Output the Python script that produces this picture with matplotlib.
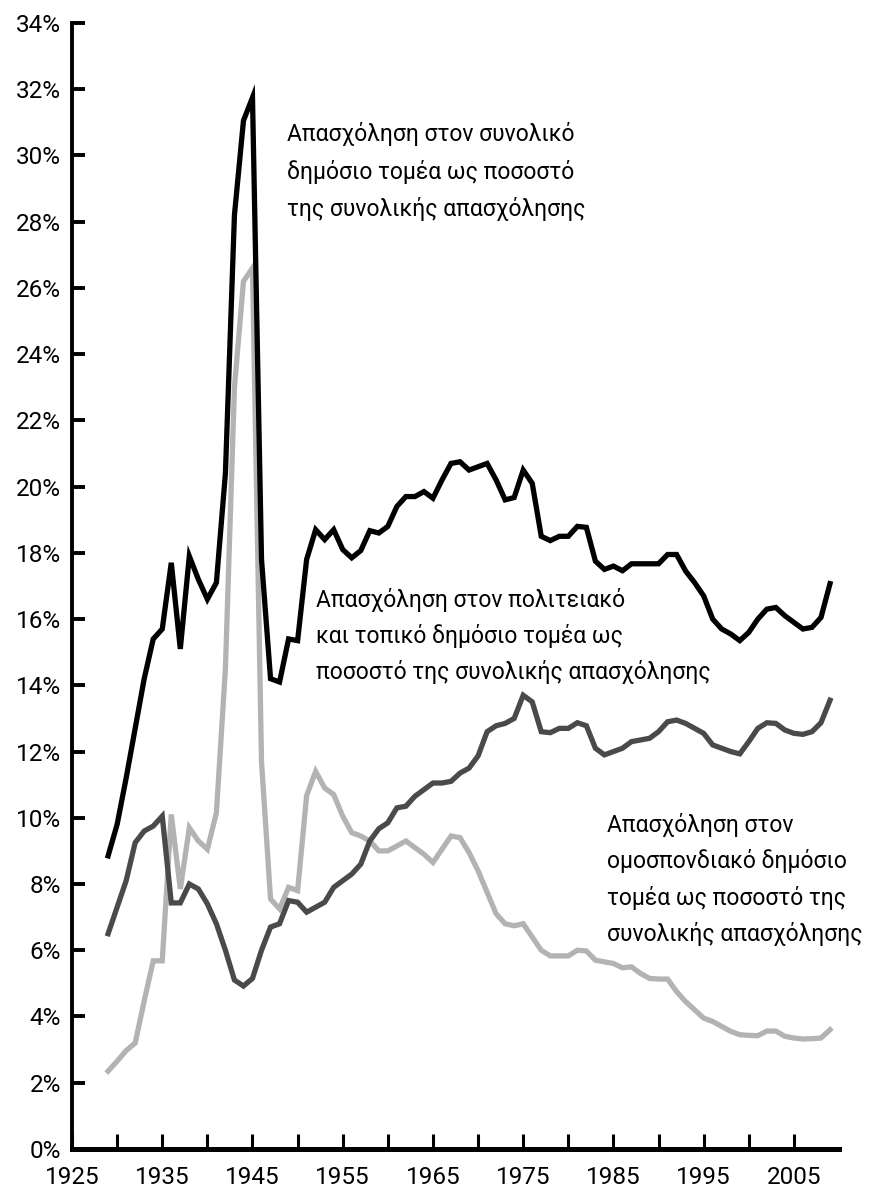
import numpy as np
import matplotlib
matplotlib.use("Agg")
import matplotlib.pyplot as plt

plt.rcParams['font.family'] = ['Roboto', 'DejaVu Sans']

years = np.arange(1929, 2010)

# total public sector employment, % of total employment
total = [8.85, 9.8, 11.2, 12.7, 14.2, 15.4, 15.7, 17.7, 15.1, 17.9,
         17.2, 16.6, 17.1, 20.4, 28.2, 31.05, 31.75, 17.8, 14.2, 14.1,
         15.4, 15.35, 17.8, 18.7, 18.4, 18.7, 18.1, 17.85, 18.07, 18.67,
         18.6, 18.8, 19.4, 19.7, 19.7, 19.85, 19.65, 20.2, 20.7, 20.75,
         20.5, 20.6, 20.7, 20.2, 19.6, 19.67, 20.5, 20.1, 18.5, 18.37,
         18.5, 18.5, 18.8, 18.77, 17.75, 17.5, 17.6, 17.46, 17.67, 17.67,
         17.67, 17.67, 17.95, 17.95, 17.45, 17.1, 16.7, 16.0, 15.7, 15.55,
         15.35, 15.6, 16.0, 16.3, 16.35, 16.1, 15.9, 15.7, 15.75, 16.05,
         17.07]

# state and local
state_local = [6.5, 7.3, 8.1, 9.25, 9.6, 9.75, 10.05, 7.43, 7.43, 8.0,
               7.85, 7.4, 6.8, 6.0, 5.1, 4.92, 5.15, 6.0, 6.7, 6.8,
               7.5, 7.45, 7.15, 7.3, 7.45, 7.9, 8.1, 8.3, 8.6, 9.3,
               9.67, 9.85, 10.3, 10.35, 10.65, 10.85, 11.05, 11.05, 11.1, 11.35,
               11.5, 11.87, 12.6, 12.78, 12.85, 13.0, 13.7, 13.5, 12.6, 12.57,
               12.7, 12.7, 12.87, 12.78, 12.1, 11.9, 12.0, 12.1, 12.3, 12.35,
               12.4, 12.6, 12.9, 12.95, 12.85, 12.7, 12.55, 12.2, 12.1, 12.0,
               11.93, 12.3, 12.7, 12.87, 12.85, 12.65, 12.55, 12.52, 12.6, 12.87,
               13.55]

# federal
federal = [2.35, 2.65, 2.97, 3.2, 4.47, 5.68, 5.68, 10.1, 7.85, 9.7,
           9.3, 9.05, 10.15, 14.5, 23.0, 26.2, 26.6, 11.7, 7.55, 7.25,
           7.9, 7.8, 10.67, 11.4, 10.9, 10.7, 10.05, 9.55, 9.45, 9.3,
           9.0, 9.0, 9.15, 9.3, 9.1, 8.9, 8.65, 9.05, 9.45, 9.4,
           8.95, 8.4, 7.75, 7.1, 6.8, 6.74, 6.8, 6.4, 6.0, 5.83,
           5.83, 5.83, 6.0, 5.98, 5.7, 5.65, 5.6, 5.47, 5.5, 5.3,
           5.15, 5.13, 5.13, 4.75, 4.45, 4.2, 3.95, 3.85, 3.7, 3.55,
           3.45, 3.43, 3.42, 3.56, 3.56, 3.4, 3.35, 3.32, 3.33, 3.35,
           3.6]

label_total = "Απασχόληση στον συνολικό\nδημόσιο τομέα ως ποσοστό\nτης συνολικής απασχόλησης"
label_state = "Απασχόληση στον πολιτειακό\nκαι τοπικό δημόσιο τομέα ως\nποσοστό της συνολικής απασχόλησης"
label_fed = "Απασχόληση στον\nομοσπονδιακό δημόσιο\nτομέα ως ποσοστό της\nσυνολικής απασχόλησης"

fig = plt.figure(figsize=(8.75, 11.91), dpi=100)
ax = fig.add_axes([0.0823, 0.0353, 0.8766, 0.9454])

ax.plot(years, federal, color='#b3b3b3', lw=3.8, solid_joinstyle='miter')
ax.plot(years, state_local, color='#4a4a4a', lw=3.8, solid_joinstyle='miter')
ax.plot(years, total, color='black', lw=3.8, solid_joinstyle='miter')

ax.set_xlim(1925, 2010)
ax.set_ylim(0, 34)

ax.set_yticks(np.arange(0, 35, 2))
ax.set_yticklabels([f"{v}%" for v in range(0, 35, 2)])
xt = np.arange(1925, 2010, 5)
ax.set_xticks(xt)
ax.set_xticklabels([str(y) if (y - 1925) % 10 == 0 else "" for y in xt])

ax.tick_params(axis='y', direction='in', length=9, width=2.8, labelsize=17.5, pad=8)
ax.tick_params(axis='x', direction='in', length=11, width=2.2, labelsize=17.5, pad=12)
for s in ['top', 'right']:
    ax.spines[s].set_visible(False)
ax.spines['left'].set_linewidth(2.8)
ax.spines['bottom'].set_linewidth(3.6)

ax.text(1948.8, 31.0, label_total, fontsize=16.5, va='top', ha='left', linespacing=1.7)
ax.text(1952.05, 16.95, label_state, fontsize=16.5, va='top', ha='left', linespacing=1.65)
ax.text(1984.3, 10.15, label_fed, fontsize=16.5, va='top', ha='left', linespacing=1.65)

fig.savefig("out.png", dpi=100)
